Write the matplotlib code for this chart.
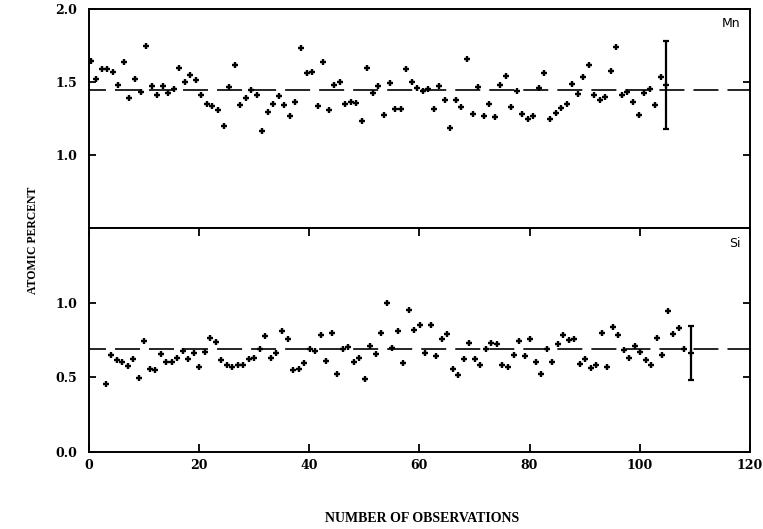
import numpy as np
import matplotlib
matplotlib.use("Agg")
import matplotlib.pyplot as plt

plt.rcParams['lines.scale_dashes'] = False

# ---- data ----
mn_values = [1.645, 1.520, 1.587, 1.587, 1.569, 1.482, 1.636, 1.393, 1.520, 1.430,
             1.744, 1.470, 1.413, 1.470, 1.426, 1.453, 1.598, 1.500, 1.549, 1.517,
             1.413, 1.346, 1.334, 1.305, 1.202, 1.466, 1.616, 1.343, 1.393, 1.442,
             1.413, 1.166, 1.296, 1.346, 1.403, 1.343, 1.265, 1.366, 1.735, 1.560,
             1.569, 1.334, 1.636, 1.305, 1.482, 1.500, 1.346, 1.366, 1.354, 1.236,
             1.598, 1.423, 1.473, 1.276, 1.493, 1.314, 1.314, 1.589, 1.500, 1.462,
             1.435, 1.453, 1.316, 1.473, 1.374, 1.187, 1.374, 1.326, 1.658, 1.278,
             1.466, 1.269, 1.350, 1.258, 1.477, 1.544, 1.328, 1.435, 1.281, 1.247,
             1.269, 1.457, 1.564, 1.247, 1.287, 1.319, 1.350, 1.489, 1.419, 1.534,
             1.614, 1.410, 1.374, 1.399, 1.574, 1.737, 1.408, 1.433, 1.361, 1.272,
             1.428, 1.455, 1.341, 1.536]
si_values = [0.455, 0.650, 0.614, 0.601, 0.574, 0.626, 0.495, 0.742, 0.559, 0.547,
             0.655, 0.603, 0.603, 0.628, 0.675, 0.621, 0.666, 0.569, 0.668, 0.762,
             0.738, 0.614, 0.585, 0.567, 0.583, 0.581, 0.626, 0.630, 0.693, 0.776,
             0.628, 0.666, 0.810, 0.754, 0.547, 0.556, 0.594, 0.693, 0.675, 0.781,
             0.608, 0.798, 0.525, 0.693, 0.704, 0.601, 0.630, 0.489, 0.713, 0.657,
             0.794, 1.000, 0.697, 0.810, 0.594, 0.953, 0.814, 0.850, 0.662, 0.850,
             0.646, 0.760, 0.787, 0.559, 0.513, 0.623, 0.727, 0.623, 0.585, 0.693,
             0.727, 0.720, 0.585, 0.567, 0.648, 0.742, 0.643, 0.754, 0.601, 0.522,
             0.693, 0.603, 0.724, 0.783, 0.747, 0.758, 0.592, 0.626, 0.563, 0.585,
             0.796, 0.569, 0.838, 0.783, 0.680, 0.630, 0.707, 0.668, 0.619, 0.585,
             0.764, 0.650, 0.944, 0.792, 0.832, 0.693]
mn_obs = np.linspace(0.4, 103.8, len(mn_values))
si_obs = np.arange(3, 3 + len(si_values)) + 0.1

mn_mean = 1.445
si_mean = 0.69
mn_err_x, mn_err_y, mn_err = 104.7, 1.48, 0.30
si_err_x, si_err_y, si_err = 109.3, 0.665, 0.18

x_ticks = [0, 20, 40, 60, 80, 100, 120]
mn_yticks = [1.0, 1.5, 2.0]
si_yticks = [0.0, 0.5, 1.0]

# ---- figure ----
W, H = 763, 529
fig = plt.figure(figsize=(W / 100, H / 100), dpi=100)
L, R = 88.5 / W, 750.0 / W
ax_top = fig.add_axes([L, 1 - 228 / H, R - L, 219 / H])
ax_bot = fig.add_axes([L, 1 - 452 / H, R - L, 224 / H])

tick_font = dict(family='DejaVu Serif', weight='bold', size=9)
dash = (5.8, (18, 6.5))
mk = dict(marker='+', ls='none', color='black', ms=5, mew=1.7)

for ax in (ax_top, ax_bot):
    ax.set_xlim(0, 120)
    for s in ax.spines.values():
        s.set_linewidth(1.4)

# top panel: Mn
ax_top.set_ylim(0.5, 2.0)
ax_top.plot(mn_obs, mn_values, **mk)
ax_top.axhline(mn_mean, color='black', lw=1.2, ls=dash)
ax_top.errorbar([mn_err_x], [mn_err_y], yerr=[mn_err], fmt='+', color='black',
                ms=5, mew=1.6, elinewidth=1.6, capsize=2.5, capthick=1.6)
ax_top.set_yticks(mn_yticks)
ax_top.set_yticklabels([f"{v:.1f}" for v in mn_yticks], fontdict=tick_font)
ax_top.tick_params(axis='y', direction='in', length=5, width=1.3, right=True,
                   pad=8)
ax_top.tick_params(axis='x', bottom=False, labelbottom=False)
ax_top.text(0.972, 0.932, "Mn", transform=ax_top.transAxes, ha='center',
            va='center', fontsize=9, family='DejaVu Sans')

# bottom panel: Si
ax_bot.set_ylim(0.0, 1.5)
ax_bot.plot(si_obs, si_values, **mk)
ax_bot.axhline(si_mean, color='black', lw=1.2, ls=dash)
ax_bot.errorbar([si_err_x], [si_err_y], yerr=[si_err], fmt='+', color='black',
                ms=5, mew=1.6, elinewidth=1.6, capsize=2.5, capthick=1.6)
ax_bot.set_yticks(si_yticks)
ax_bot.set_yticklabels([f"{v:.1f}" for v in si_yticks], fontdict=tick_font)
ax_bot.set_xticks(x_ticks)
ax_bot.set_xticklabels([str(v) for v in x_ticks], fontdict=tick_font)
ax_bot.tick_params(axis='y', direction='in', length=5, width=1.3, right=True,
                   pad=8)
ax_bot.tick_params(axis='x', direction='in', length=6, width=1.3, top=True,
                   pad=5)
ax_bot.text(0.977, 0.933, "Si", transform=ax_bot.transAxes, ha='center',
            va='center', fontsize=9, family='DejaVu Sans')

fig.text(422 / W, 1 - 519 / H, "NUMBER OF OBSERVATIONS", ha='center',
         va='center', family='Liberation Serif', weight='bold', fontsize=10)
fig.text(33 / W, 1 - 240 / H, "ATOMIC PERCENT", ha='center', va='center',
         rotation=90, family='Liberation Serif', weight='bold', fontsize=8.5)

fig.savefig("out.png", dpi=100)
